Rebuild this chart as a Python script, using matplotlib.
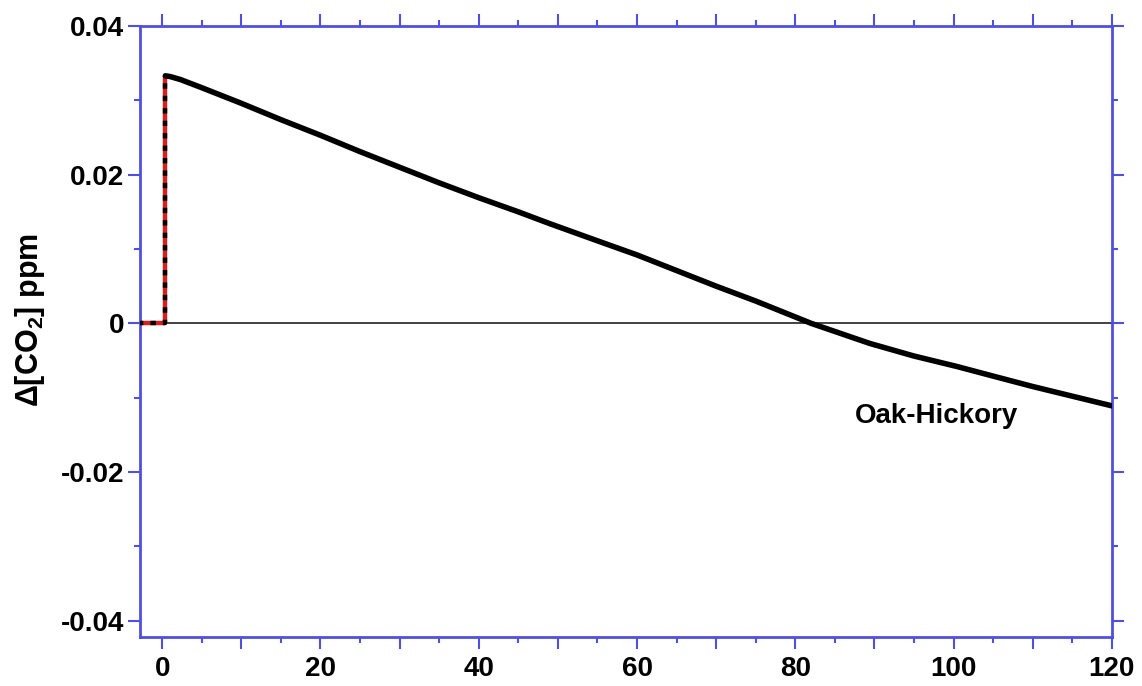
import matplotlib
matplotlib.use("Agg")
import matplotlib.pyplot as plt
from matplotlib.ticker import MultipleLocator, FuncFormatter

plt.rcParams['font.family'] = ['Liberation Sans', 'DejaVu Sans']
plt.rcParams['font.weight'] = 'bold'
plt.rcParams['mathtext.fontset'] = 'custom'
plt.rcParams['mathtext.rm'] = 'Liberation Sans:bold'
plt.rcParams['mathtext.it'] = 'Liberation Sans:bold'
plt.rcParams['mathtext.default'] = 'rm'

# step at the start of the run (red/black dashed)
step_x = [-3.0, 0.4, 0.4]
step_y = [0.0, 0.0, 0.0333]

# decay of the CO2 anomaly, Oak-Hickory
years = [0.4, 1.0, 2.3, 5, 10, 15, 20, 25, 30, 35, 40, 45, 49, 55, 60, 65, 70, 75,
         82, 89.4, 95, 100.4, 105, 110, 115, 120]
dco2 = [0.0333, 0.0332, 0.0328, 0.0317, 0.0296, 0.0274, 0.0253, 0.0231, 0.0210, 0.0189,
        0.0169, 0.0150, 0.0134, 0.0111, 0.0092, 0.0071, 0.0050, 0.0030,
        0.0, -0.0027, -0.0044, -0.0058, -0.0071, -0.0085, -0.0098, -0.0111]

blue = '#4f4fe0'

fig = plt.figure(figsize=(11.42, 6.86), dpi=100)
ax = fig.add_axes([0.1226, 0.0714, 0.851, 0.8907])

ax.axhline(0, color='#333333', lw=1.3, zorder=1)
ax.plot(step_x, step_y, color='#d42020', lw=3.2, zorder=2, solid_capstyle='butt')
ax.plot(step_x, step_y, color='black', lw=3.2, ls=(0, (1.2, 1.6)), zorder=3)
ax.plot(years, dco2, color='black', lw=4, zorder=4, solid_joinstyle='round',
        solid_capstyle='round')

ax.set_xlim(-2.8, 120)
ax.set_ylim(-0.0422, 0.04)

ax.xaxis.set_major_locator(MultipleLocator(10))
ax.xaxis.set_minor_locator(MultipleLocator(5))
ax.xaxis.set_major_formatter(FuncFormatter(lambda v, p: f'{v:.0f}' if round(v) % 20 == 0 else ''))
ax.yaxis.set_major_locator(MultipleLocator(0.02))
ax.yaxis.set_minor_locator(MultipleLocator(0.01))
ax.yaxis.set_major_formatter(FuncFormatter(lambda v, p: '0' if abs(v) < 1e-9 else f'{v:.2f}'))

ax.tick_params(which='both', direction='out', top=True, right=True, color=blue,
               labelsize=20, width=1.5)
ax.tick_params(which='major', length=8.4)
ax.tick_params(which='minor', length=4.3)
ax.tick_params(axis='x', which='major', pad=5)
ax.tick_params(axis='y', which='major', pad=3)

for s in ax.spines.values():
    s.set_color(blue)
    s.set_linewidth(2)

fig.text(30 / 1142, 1 - 320 / 686, 'Δ[CO$_2$] ppm', rotation=90, fontsize=22,
         fontweight='bold', ha='center', va='center')

ax.text(97.9, -0.0124, 'Oak-Hickory', fontsize=20, fontweight='bold', ha='center', va='center')

fig.savefig('out.png', dpi=100)
